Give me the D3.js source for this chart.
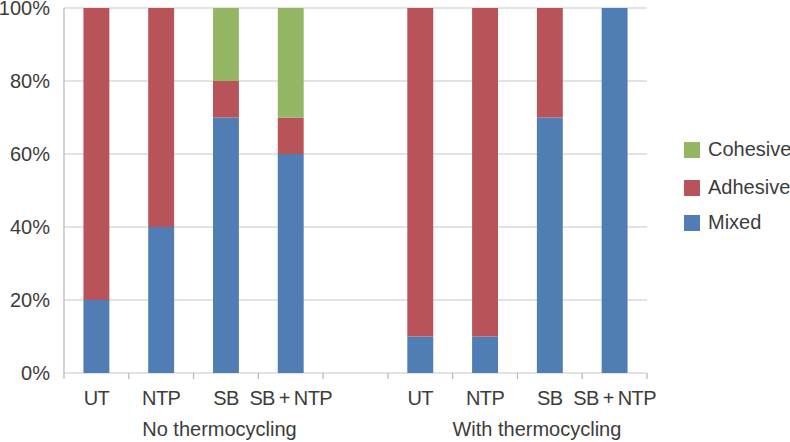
<!DOCTYPE html>
<html>
<head>
<meta charset="utf-8">
<script src="https://cdn.jsdelivr.net/npm/d3@7"></script>
<style>
  body { margin: 0; background: #fff; }
  text { font-family: "Liberation Sans", Arial, sans-serif; fill: #3c3c3c; }
  .xlab { letter-spacing: -0.6px; word-spacing: -1px; }
</style>
</head>
<body>
<div id="chart"></div>
<script>
// slots: 4 bars, an empty slot, 4 bars
var slots = ["s0", "s1", "s2", "s3", "gap", "s5", "s6", "s7", "s8"];
var slotLabels = ["UT", "NTP", "SB", "SB + NTP", "", "UT", "NTP", "SB", "SB + NTP"];
var groups = ["No thermocycling", "With thermocycling"];
var groupPos = [2.4, 7.3]; // in slot units, where the group title sits

var series = ["Mixed", "Adhesive", "Cohesive"];
var colors = ["#4f7db4", "#b9535a", "#95b665"];

var mixed    = [20, 40, 70, 60, null, 10, 10, 70, 100];
var adhesive = [80, 60, 10, 10, null, 90, 90, 30, 0];
var cohesive = [0,  0,  20, 30, null, 0,  0,  0,  0];

var yTicks = [0, 20, 40, 60, 80, 100];

var W = 790, H = 442;
var margin = {top: 8, left: 64, right: 143, bottom: 69};
var width = W - margin.left - margin.right,
    height = H - margin.top - margin.bottom;
var fs = "20px";

var svg = d3.select("#chart").append("svg")
    .attr("width", W).attr("height", H);
var g = svg.append("g")
    .attr("transform", "translate(" + margin.left + "," + margin.top + ")");

var x = d3.scaleBand().domain(slots).range([0, width]).paddingInner(0.6).paddingOuter(0.3);
var xs = d3.scaleLinear().domain([0, slots.length]).range([0, width]);
var y = d3.scaleLinear().domain([0, 100]).range([height, 0]);

// gridlines
g.selectAll(".grid").data(yTicks).enter().append("line")
  .attr("x1", 0).attr("x2", width)
  .attr("y1", d => y(d)).attr("y2", d => y(d))
  .attr("stroke", "#c8c8c8").attr("stroke-width", 1.2);

// y axis line
g.append("line").attr("x1", 0).attr("x2", 0).attr("y1", 0).attr("y2", height)
  .attr("stroke", "#b8b8b8").attr("stroke-width", 1.2);

// y labels
g.selectAll(".ylab").data(yTicks).enter().append("text")
  .attr("x", -14).attr("y", d => y(d) + 7)
  .attr("text-anchor", "end").style("font-size", fs)
  .text(d => d + "%");

// stacked bars
var rows = slots.map(function(s, i) {
  return {slot: s, Mixed: mixed[i] || 0, Adhesive: adhesive[i] || 0, Cohesive: cohesive[i] || 0};
});
var stack = d3.stack().keys(series)(rows);
g.selectAll(".layer").data(stack).enter().append("g")
  .attr("fill", (d, i) => colors[i])
  .selectAll("rect").data(d => d).enter().append("rect")
  .attr("x", d => x(d.data.slot))
  .attr("width", x.bandwidth())
  .attr("y", d => y(d[1]))
  .attr("height", d => y(d[0]) - y(d[1]));

// x axis tick marks at slot boundaries
g.selectAll(".xt").data(d3.range(slots.length + 1)).enter().append("line")
  .attr("x1", d => xs(d)).attr("x2", d => xs(d))
  .attr("y1", height).attr("y2", height + 6)
  .attr("stroke", "#b8b8b8").attr("stroke-width", 1.2);

// category labels
g.selectAll(".xlab").data(slots).enter().append("text")
  .attr("class", "xlab")
  .attr("x", d => x(d) + x.bandwidth() / 2)
  .attr("y", height + 32)
  .attr("text-anchor", "middle").style("font-size", fs)
  .text((d, i) => slotLabels[i]);

// group labels
g.selectAll(".glab").data(groups).enter().append("text")
  .attr("x", (d, i) => xs(groupPos[i]))
  .attr("y", height + 63)
  .attr("text-anchor", "middle").style("font-size", fs)
  .text(d => d);

// legend
var leg = svg.append("g").attr("transform", "translate(684,0)");
var legOrder = [2, 1, 0];
var legY = [150, 188, 223];
legOrder.forEach(function(k, i) {
  leg.append("rect").attr("x", 0).attr("y", legY[i] - 8)
    .attr("width", 16).attr("height", 16).attr("fill", colors[k]);
  leg.append("text").attr("x", 24).attr("y", legY[i] + 6)
    .style("font-size", fs).text(series[k]);
});
</script>
</body>
</html>
